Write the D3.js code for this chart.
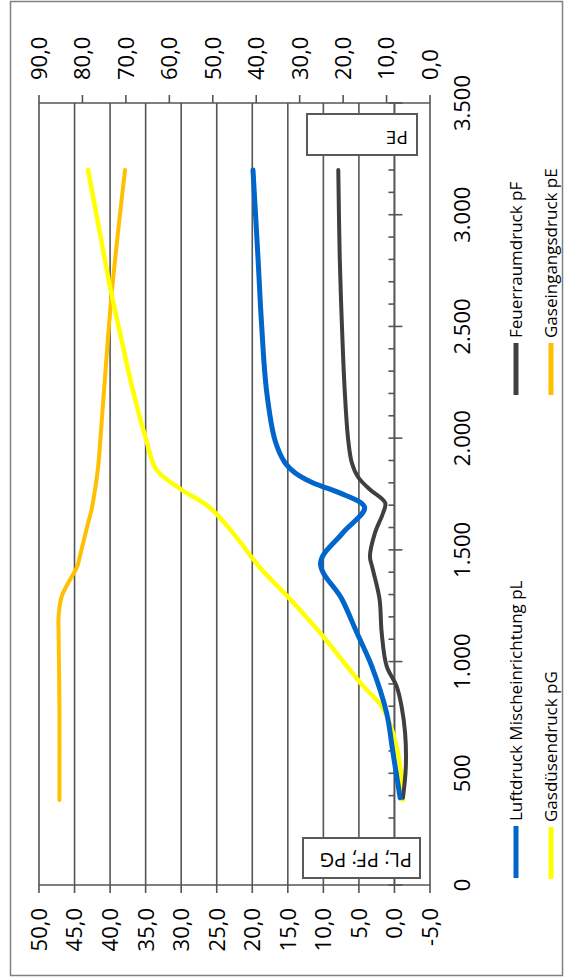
<!DOCTYPE html>
<html>
<head>
<meta charset="utf-8">
<script src="https://cdn.jsdelivr.net/npm/d3@7"></script>
<style>
  html, body { margin: 0; padding: 0; background: #fff; }
  svg { display: block; }
  text { font-family: "Open Sans", "DejaVu Sans", sans-serif; fill: #000; }
</style>
</head>
<body>
<script>
// ---------- data ----------
const xTicks = [0, 500, 1000, 1500, 2000, 2500, 3000, 3500];
const leftTicks = [-5, 0, 5, 10, 15, 20, 25, 30, 35, 40, 45, 50];
const rightTicks = [0, 10, 20, 30, 40, 50, 60, 70, 80, 90];

const pL_x = [390, 590, 770, 980, 1130, 1280, 1440, 1575, 1690, 1755, 1800, 1845, 1890, 1990, 2215, 2515, 2810, 3200];
const pL_y = [-0.8, 0.2, 1.1, 3.2, 5.3, 7.4, 10.4, 7.3, 4.2, 7.7, 11.5, 14.0, 15.4, 16.8, 18.0, 18.7, 19.2, 19.9];

const pF_x = [390, 530, 680, 800, 890, 980, 1130, 1280, 1420, 1470, 1575, 1665, 1710, 1770, 1825, 1890, 1990, 2215, 2515, 2810, 3200];
const pF_y = [-1.2, -1.6, -1.5, -1.0, -0.3, 1.1, 1.8, 2.1, 3.1, 3.45, 2.75, 1.6, 1.3, 3.45, 5.1, 6.0, 6.5, 7.0, 7.4, 7.7, 7.9];

const pG_x = [380, 530, 680, 800, 890, 980, 1130, 1280, 1420, 1575, 1690, 1770, 1860, 1990, 2215, 2485, 2660, 2930, 3200];
const pG_y = [-1.2, -0.8, 0.2, 1.8, 4.4, 6.7, 10.5, 14.7, 18.9, 22.7, 26.0, 30.0, 33.5, 34.9, 36.8, 38.7, 39.9, 41.5, 43.1];

const pE_x = [380, 800, 1140, 1200, 1290, 1365, 1425, 1470, 1620, 1680, 1770, 1870, 2170, 2660, 3200];
const pE_y = [85.3, 85.3, 85.5, 85.5, 84.8, 82.9, 81.2, 80.6, 78.7, 77.9, 77.1, 76.4, 75.2, 73.2, 70.2];

const seriesNames = ["Luftdruck Mischeinrichtung pL", "Feuerraumdruck pF", "Gasdüsendruck pG", "Gaseingangsdruck pE"];
const seriesColors = ["#0066CC", "#3F3F3F", "#FFFF00", "#FFC000"];
const leftTitle = "PL; PF; PG";
const rightTitle = "PE";

// ---------- setup ----------
const W = 564, H = 979;
const svg = d3.select("body").append("svg").attr("width", W).attr("height", H);
svg.append("rect").attr("width", W).attr("height", H).attr("fill", "#fff");
svg.append("rect").attr("x", 10.5).attr("y", 1.5).attr("width", 552).attr("height", 974)
  .attr("fill", "none").attr("stroke", "#808080").attr("stroke-width", 1.5);

// the chart is drawn in an unrotated frame (979 wide x 564 tall) and rotated -90deg
const g = svg.append("g").attr("transform", `translate(0,${H}) rotate(-90)`);

const loc = d3.formatLocale({decimal: ",", thousands: ".", grouping: [3], currency: ["", "€"], minus: "-"});
const fmtX = loc.format(",d");
const fmtY = loc.format(".1f");

const x = d3.scaleLinear().domain([0, 3500]).range([94, 876]);
const yL = d3.scaleLinear().domain([-5, 50]).range([430, 39]);
const yR = d3.scaleLinear().domain([0, 90]).range([430, 39]);

const gridColor = "#555";

// gridlines
g.append("g").selectAll("line").data(leftTicks).join("line")
  .attr("x1", x(0)).attr("x2", x(3500))
  .attr("y1", d => yL(d)).attr("y2", d => yL(d))
  .attr("stroke", gridColor).attr("stroke-width", 1.6);

// left axis (frame left)
g.append("line").attr("x1", x(0)).attr("x2", x(0)).attr("y1", yL(50)).attr("y2", yL(-5))
  .attr("stroke", gridColor).attr("stroke-width", 1.6);
g.append("g").selectAll("line").data(leftTicks).join("line")
  .attr("x1", x(0) - 8).attr("x2", x(0)).attr("y1", d => yL(d)).attr("y2", d => yL(d))
  .attr("stroke", gridColor).attr("stroke-width", 1.6);
g.append("g").selectAll("text").data(leftTicks).join("text")
  .attr("x", x(0) - 23).attr("y", d => yL(d)).attr("dy", "0.36em")
  .attr("text-anchor", "end").attr("font-size", 22).text(d => fmtY(d));

// right axis (frame right)
g.append("line").attr("x1", x(3500)).attr("x2", x(3500)).attr("y1", yR(90)).attr("y2", yR(0))
  .attr("stroke", gridColor).attr("stroke-width", 1.6);
g.append("g").selectAll("line").data(rightTicks).join("line")
  .attr("x1", x(3500)).attr("x2", x(3500) + 8).attr("y1", d => yR(d)).attr("y2", d => yR(d))
  .attr("stroke", gridColor).attr("stroke-width", 1.6);
g.append("g").selectAll("text").data(rightTicks).join("text")
  .attr("x", x(3500) + 23).attr("y", d => yR(d)).attr("dy", "0.36em")
  .attr("text-anchor", "start").attr("font-size", 22).text(d => fmtY(d));

// x axis at y=0 of the left scale
const y0 = yL(0);
g.append("line").attr("x1", x(0)).attr("x2", x(3500)).attr("y1", y0).attr("y2", y0)
  .attr("stroke", gridColor).attr("stroke-width", 1.6);
const minor = d3.range(0, 3501, 100);
g.append("g").selectAll("line").data(minor).join("line")
  .attr("x1", d => x(d)).attr("x2", d => x(d))
  .attr("y1", y0 - 6).attr("y2", d => d % 500 === 0 ? y0 + 8 : y0)
  .attr("stroke", gridColor).attr("stroke-width", 1.6);
g.append("g").selectAll("text").data(xTicks).join("text")
  .attr("x", d => x(d)).attr("y", 470)
  .attr("text-anchor", "middle").attr("font-size", 22).text(d => fmtX(d));

// series
const series = [
  {xs: pL_x, ys: pL_y, scale: yL, color: seriesColors[0], w: 5},
  {xs: pF_x, ys: pF_y, scale: yL, color: seriesColors[1], w: 4},
  {xs: pG_x, ys: pG_y, scale: yL, color: seriesColors[2], w: 4.5},
  {xs: pE_x, ys: pE_y, scale: yR, color: seriesColors[3], w: 4}
];
const drawOrder = [3, 2, 1, 0];
drawOrder.forEach(i => {
  const s = series[i];
  const pts = s.xs.map((d, k) => [d, s.ys[k]]);
  const line = d3.line().x(d => x(d[0])).y(d => s.scale(d[1])).curve(d3.curveCatmullRom.alpha(0.5));
  g.append("path").attr("d", line(pts)).attr("fill", "none")
    .attr("stroke", s.color).attr("stroke-width", s.w)
    .attr("stroke-linecap", "round").attr("stroke-linejoin", "round");
});

// axis title boxes
function titleBox(u0, u1, v0, v1, label, baseU, startV, fs) {
  g.append("rect").attr("x", u0).attr("y", v0).attr("width", u1 - u0).attr("height", v1 - v0)
    .attr("fill", "#fff").attr("stroke", "#595959").attr("stroke-width", 2);
  g.append("text").attr("transform", `translate(${baseU},${startV}) rotate(-90)`)
    .attr("text-anchor", "start").attr("font-size", fs).text(label);
}
titleBox(101, 141, 303, 420, leftTitle, 126, 412, 20);
titleBox(824, 865, 307, 417, rightTitle, 848, 408, 19);

// legend
const legendPos = [
  {u: 101, v: 516}, {u: 584, v: 516}, {u: 100, v: 551}, {u: 584, v: 551}
];
legendPos.forEach((p, i) => {
  g.append("line").attr("x1", p.u).attr("x2", p.u + 52).attr("y1", p.v).attr("y2", p.v)
    .attr("stroke", seriesColors[i]).attr("stroke-width", 5);
  g.append("text").attr("x", p.u + 57).attr("y", p.v).attr("dy", "0.36em")
    .attr("font-size", 17).text(seriesNames[i]);
});
</script>
</body>
</html>
